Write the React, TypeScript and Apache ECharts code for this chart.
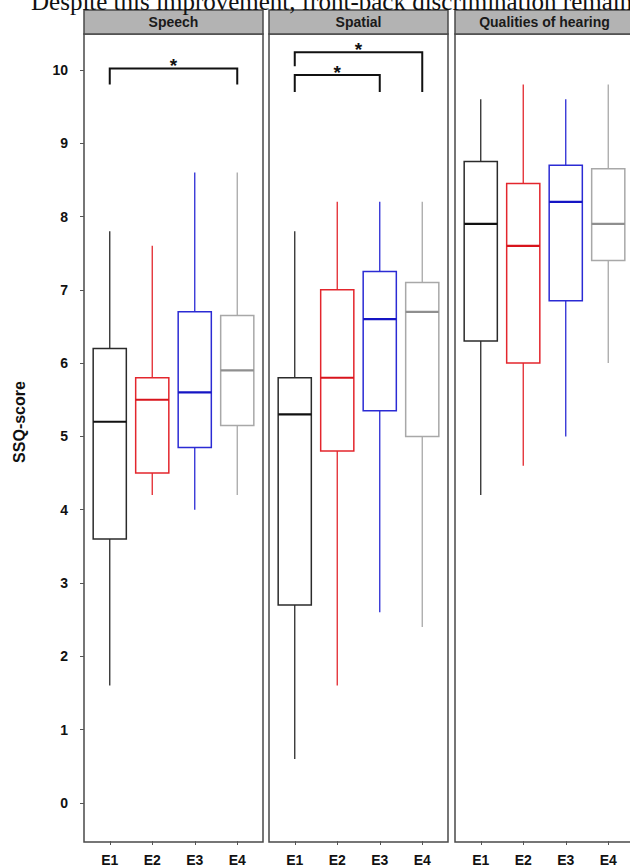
import React, { useEffect, useRef } from "react";
import * as echarts from "echarts";

const categories = ["E1", "E2", "E3", "E4"];
const panelTitles = ["Speech", "Spatial", "Qualities of hearing"];
const yTickValues = [0, 1, 2, 3, 4, 5, 6, 7, 8, 9, 10];
const yTitle = "SSQ-score";
const captionText = "Despite this improvement, front-back discrimination remains";

const groupColors = ["#2b2b2b", "#e3262d", "#2b2bd4", "#a8a8a8"];
const medianColors = ["#111111", "#d8141c", "#1515c4", "#8f8f8f"];

// [min, Q1, median, Q3, max]
const speechBoxes = [
  [1.6, 3.6, 5.2, 6.2, 7.8],
  [4.2, 4.5, 5.5, 5.8, 7.6],
  [4.0, 4.85, 5.6, 6.7, 8.6],
  [4.2, 5.15, 5.9, 6.65, 8.6],
];
const spatialBoxes = [
  [0.6, 2.7, 5.3, 5.8, 7.8],
  [1.6, 4.8, 5.8, 7.0, 8.2],
  [2.6, 5.35, 6.6, 7.25, 8.2],
  [2.4, 5.0, 6.7, 7.1, 8.2],
];
const hearingBoxes = [
  [4.2, 6.3, 7.9, 8.75, 9.6],
  [4.6, 6.0, 7.6, 8.45, 9.8],
  [5.0, 6.85, 8.2, 8.7, 9.6],
  [6.0, 7.4, 7.9, 8.65, 9.8],
];

// [fromIndex, toIndex, barY, leftTipY, rightTipY]
const speechBrackets = [[0, 3, 10.02, 9.8, 9.8]];
const spatialBrackets = [
  [0, 3, 10.24, 10.05, 9.7],
  [0, 2, 9.93, 9.7, 9.7],
];
const hearingBrackets: number[][] = [];

const yMin = -0.52;
const yMax = 10.49;

export default function App() {
  const ref = useRef<HTMLDivElement>(null);

  useEffect(() => {
    if (!ref.current) return;
    const chart = echarts.init(ref.current, null, { renderer: "svg" });

    const panelLefts = [84, 269, 455];
    const panelWidth = 179;
    const gridInset = 4.5;
    const gridWidth = 170;
    const plotTop = 34;
    const plotHeight = 808;
    const stripTop = 10;
    const stripHeight = 24;
    const fontSans = "'Liberation Sans', Arial, sans-serif";

    const boxesByPanel = [speechBoxes, spatialBoxes, hearingBoxes];
    const bracketsByPanel = [speechBrackets, spatialBrackets, hearingBrackets];

    const grids = panelLefts.map((l) => ({
      left: l + gridInset,
      top: plotTop,
      width: gridWidth,
      height: plotHeight,
    }));

    const xAxes: any[] = [];
    panelLefts.forEach((_, i) => {
      xAxes.push({
        type: "category",
        gridIndex: i,
        position: "bottom",
        data: categories,
        axisLine: { show: false, onZero: false },
        axisTick: {
          show: true,
          alignWithLabel: true,
          length: 4,
          lineStyle: { color: "#555", width: 1 },
        },
        axisLabel: {
          fontSize: 14,
          fontWeight: "bold",
          fontFamily: fontSans,
          color: "#111",
          margin: 12,
        },
        splitLine: { show: false },
      });
      xAxes.push({
        type: "value",
        gridIndex: i,
        min: -0.5,
        max: 3.5,
        show: false,
        axisLine: { onZero: false },
      });
    });

    const yAxes = panelLefts.map((_, i) => ({
      type: "value",
      gridIndex: i,
      position: "left",
      min: yMin,
      max: yMax,
      offset: gridInset,
      splitLine: { show: false },
      axisLine: { show: false, onZero: false },
      axisTick: {
        show: i === 0,
        length: 4,
        customValues: yTickValues,
        lineStyle: { color: "#555", width: 1 },
      },
      axisLabel: {
        show: i === 0,
        customValues: yTickValues,
        fontSize: 14,
        fontWeight: "bold",
        fontFamily: fontSans,
        color: "#111",
        margin: 16,
      },
    }));

    const series: any[] = [];
    boxesByPanel.forEach((boxes, i) => {
      series.push({
        type: "custom",
        xAxisIndex: 2 * i,
        yAxisIndex: i,
        data: boxes.map((b, j) => [j, ...b]),
        encode: { x: 0, y: [1, 2, 3, 4, 5] },
        renderItem: (params: any, api: any) => {
          const x = api.value(0);
          const idx = params.dataIndex;
          const pMin = api.coord([x, api.value(1)]);
          const pQ1 = api.coord([x, api.value(2)]);
          const pMed = api.coord([x, api.value(3)]);
          const pQ3 = api.coord([x, api.value(4)]);
          const pMax = api.coord([x, api.value(5)]);
          const bw = api.size([1, 0])[0] * 0.78;
          const c = groupColors[idx];
          return {
            type: "group",
            children: [
              {
                type: "line",
                shape: { x1: pMax[0], y1: pMax[1], x2: pQ3[0], y2: pQ3[1] },
                style: { stroke: c, lineWidth: 1.3 },
              },
              {
                type: "line",
                shape: { x1: pQ1[0], y1: pQ1[1], x2: pMin[0], y2: pMin[1] },
                style: { stroke: c, lineWidth: 1.3 },
              },
              {
                type: "rect",
                shape: {
                  x: pQ3[0] - bw / 2,
                  y: pQ3[1],
                  width: bw,
                  height: pQ1[1] - pQ3[1],
                },
                style: { fill: "none", stroke: c, lineWidth: 1.5 },
              },
              {
                type: "line",
                shape: {
                  x1: pMed[0] - bw / 2,
                  y1: pMed[1],
                  x2: pMed[0] + bw / 2,
                  y2: pMed[1],
                },
                style: { stroke: medianColors[idx], lineWidth: 2.2 },
              },
            ],
          };
        },
        z: 3,
      });
    });

    bracketsByPanel.forEach((brackets, i) => {
      if (!brackets.length) return;
      series.push({
        type: "custom",
        xAxisIndex: 2 * i + 1,
        yAxisIndex: i,
        data: brackets,
        encode: { x: [0, 1], y: [2, 3, 4] },
        renderItem: (params: any, api: any) => {
          const from = api.value(0);
          const to = api.value(1);
          const yb = api.value(2);
          const a = api.coord([from, api.value(3)]);
          const b = api.coord([from, yb]);
          const c = api.coord([to, yb]);
          const d = api.coord([to, api.value(4)]);
          return {
            type: "group",
            children: [
              {
                type: "polyline",
                shape: { points: [a, b, c, d] },
                style: { stroke: "#111", lineWidth: 2, fill: "none" },
              },
              {
                type: "text",
                x: (b[0] + c[0]) / 2,
                y: b[1] - 3,
                style: {
                  text: "*",
                  fontSize: 19,
                  fontWeight: "bold",
                  fontFamily: fontSans,
                  fill: "#111",
                  align: "center",
                  verticalAlign: "middle",
                },
              },
            ],
          };
        },
        z: 4,
      });
    });

    const graphic: any[] = [];
    panelLefts.forEach((l, i) => {
      graphic.push({
        type: "rect",
        shape: { x: l, y: plotTop, width: panelWidth, height: plotHeight },
        style: { fill: "none", stroke: "#4a4a4a", lineWidth: 1.5 },
        silent: true,
      });
      graphic.push({
        type: "rect",
        shape: { x: l, y: stripTop, width: panelWidth, height: stripHeight },
        style: { fill: "#b3b3b3", stroke: "#4a4a4a", lineWidth: 1.5 },
        silent: true,
      });
      graphic.push({
        type: "text",
        x: l + panelWidth / 2,
        y: stripTop + stripHeight / 2,
        style: {
          text: panelTitles[i],
          fontSize: 14,
          fontWeight: "bold",
          fontFamily: fontSans,
          fill: "#1a1a1a",
          align: "center",
          verticalAlign: "middle",
        },
        silent: true,
      });
    });
    graphic.push({
      type: "text",
      x: 19,
      y: 422,
      rotation: Math.PI / 2,
      style: {
        text: yTitle,
        fontSize: 16,
        fontWeight: "bold",
        fontFamily: fontSans,
        fill: "#111",
        align: "center",
        verticalAlign: "middle",
      },
      silent: true,
    });
    graphic.push({
      type: "text",
      x: 31,
      y: 1.5,
      style: {
        text: captionText,
        fontSize: 25,
        fontFamily: "'Liberation Serif', 'Times New Roman', serif",
        fill: "#111",
        align: "left",
        verticalAlign: "middle",
      },
      silent: true,
    });

    chart.setOption({
      animation: false,
      backgroundColor: "#ffffff",
      grid: grids,
      xAxis: xAxes,
      yAxis: yAxes,
      series,
      graphic,
    });

    return () => {
      chart.dispose();
    };
  }, []);

  return (
    <div
      ref={ref}
      style={{
        position: "fixed",
        left: 0,
        top: 0,
        width: 630,
        height: 867,
        background: "#fff",
      }}
    />
  );
}
